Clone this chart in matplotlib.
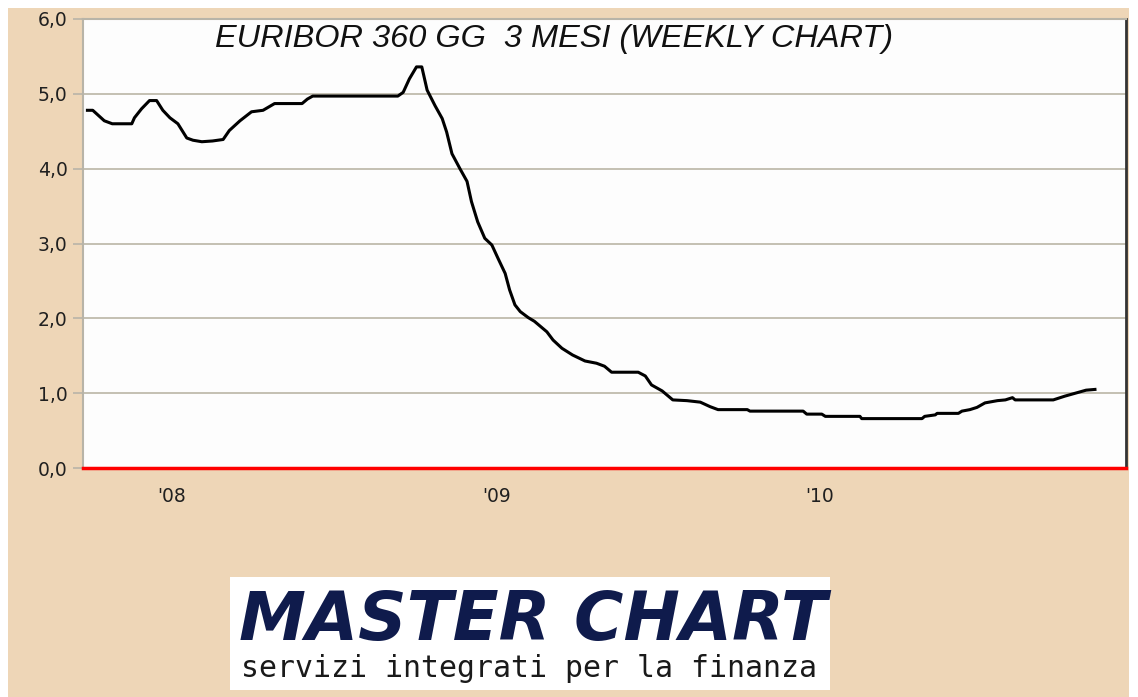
import matplotlib
matplotlib.use("Agg")
import matplotlib.pyplot as plt
import matplotlib.dates as mdates
from matplotlib.patches import Rectangle
from matplotlib.ticker import FixedLocator, FuncFormatter
import pandas as pd

# weekly Euribor 3M values
dates = ["2007-09-28", "2007-10-04", "2007-10-17", "2007-10-26", "2007-11-17",
         "2007-11-20", "2007-11-28", "2007-12-07", "2007-12-15", "2007-12-22",
         "2007-12-30", "2008-01-08", "2008-01-18", "2008-01-25", "2008-02-04",
         "2008-02-16", "2008-02-28", "2008-03-06", "2008-03-18", "2008-03-31",
         "2008-04-13", "2008-04-26", "2008-05-27", "2008-06-02", "2008-06-08",
         "2008-09-12", "2008-09-18", "2008-09-25", "2008-10-03", "2008-10-09",
         "2008-10-15", "2008-10-24", "2008-11-01", "2008-11-06", "2008-11-12",
         "2008-11-21", "2008-11-29", "2008-12-04", "2008-12-11", "2008-12-19",
         "2008-12-27", "2009-01-03", "2009-01-11", "2009-01-16", "2009-01-22",
         "2009-01-28", "2009-02-06", "2009-02-13", "2009-02-27", "2009-03-06",
         "2009-03-16", "2009-03-28", "2009-04-11", "2009-04-24", "2009-05-03",
         "2009-05-11", "2009-06-10", "2009-06-18", "2009-06-25", "2009-07-07",
         "2009-07-19", "2009-08-04", "2009-08-19", "2009-08-30", "2009-09-08",
         "2009-10-11", "2009-10-14", "2009-12-13", "2009-12-17", "2010-01-03",
         "2010-01-07", "2010-02-15", "2010-02-17", "2010-04-26", "2010-04-29",
         "2010-05-11", "2010-05-13", "2010-06-06", "2010-06-10", "2010-06-19",
         "2010-06-27", "2010-07-06", "2010-07-20", "2010-07-29", "2010-08-06",
         "2010-08-09", "2010-09-21", "2010-10-04", "2010-10-16", "2010-10-28",
         "2010-11-07"]
rates = [4.78, 4.78, 4.64, 4.60, 4.60,
         4.68, 4.80, 4.91, 4.91, 4.78,
         4.68, 4.60, 4.41, 4.38, 4.36,
         4.37, 4.39, 4.51, 4.64, 4.76,
         4.78, 4.87, 4.87, 4.93, 4.97,
         4.97, 5.02, 5.20, 5.36, 5.36,
         5.05, 4.84, 4.67, 4.49, 4.20,
         4.00, 3.83, 3.56, 3.29, 3.07,
         2.98, 2.80, 2.60, 2.38, 2.18,
         2.09, 2.01, 1.96, 1.82, 1.71,
         1.60, 1.51, 1.43, 1.40, 1.36,
         1.28, 1.28, 1.23, 1.11, 1.03,
         0.91, 0.90, 0.88, 0.82, 0.78,
         0.78, 0.76, 0.76, 0.72, 0.72,
         0.69, 0.69, 0.66, 0.66, 0.69,
         0.71, 0.73, 0.73, 0.76, 0.78,
         0.81, 0.87, 0.90, 0.91, 0.94,
         0.91, 0.91, 0.96, 1.00, 1.04,
         1.05]
year_ticks = ["2008-01-01", "2009-01-01", "2010-01-01"]
year_labels = ["'08", "'09", "'10"]

W, H = 1138, 697
beige = "#EED6B7"
fig = plt.figure(figsize=(W / 100, H / 100), dpi=100, facecolor="white")
fig.patches.append(Rectangle((8 / W, 0), 1121 / W, 689 / H, transform=fig.transFigure,
                             facecolor=beige, edgecolor="none", zorder=-10))

ax = fig.add_axes([83 / W, 1 - 468 / H, 1043 / W, 449 / H])
ax.set_facecolor("#FDFDFD")

x = pd.to_datetime(dates)
ax.plot(x, rates, color="black", lw=2.2, solid_joinstyle="round", zorder=3)

ax.set_xlim(pd.Timestamp("2007-09-23"), pd.Timestamp("2010-12-12"))
ax.set_ylim(0, 6)
ax.set_yticks(range(0, 7))
ax.yaxis.set_major_formatter(FuncFormatter(lambda v, p: f"{v:.1f}".replace(".", ",")))
ax.xaxis.set_major_locator(FixedLocator(mdates.date2num(pd.to_datetime(year_ticks))))
ax.set_xticklabels(year_labels)

ax.grid(axis="y", color="#C4C0B2", lw=1.4)
ax.tick_params(axis="y", length=7, width=1.2, color="#B8B4A8", pad=4,
               labelsize=13.5, labelcolor="#202020")
ax.tick_params(axis="x", length=0, pad=14, labelsize=13.5, labelcolor="#202020")

for s in ("left", "top"):
    ax.spines[s].set_color("#B8B4A8")
    ax.spines[s].set_linewidth(1.5)
ax.spines["right"].set_color("#333333")
ax.spines["right"].set_linewidth(2)
ax.spines["bottom"].set_color("#FF0000")
ax.spines["bottom"].set_linewidth(2.5)
ax.spines["bottom"].set_zorder(5)

fig.text(215 / W, 1 - 47 / H, "EURIBOR 360 GG  3 MESI (WEEKLY CHART)",
         family="Liberation Sans", style="italic", fontsize=23.4, color="#111111",
         ha="left", va="baseline")

# logo box
fig.patches.append(Rectangle((230 / W, 1 - 690 / H), 600 / W, 113 / H, transform=fig.transFigure,
                             facecolor="white", edgecolor="none", zorder=-5))
fig.text(533 / W, 1 - 640 / H, "MASTER CHART", family="DejaVu Sans", weight="heavy",
         style="italic", fontsize=48.5, color="#0F1B4C", ha="center", va="baseline")
fig.text(529 / W, 1 - 677 / H, "servizi integrati per la finanza", family="DejaVu Sans Mono",
         fontsize=21.5, color="#1A1A1A", ha="center", va="baseline")

plt.savefig("out.png", dpi=100, facecolor=fig.get_facecolor())
